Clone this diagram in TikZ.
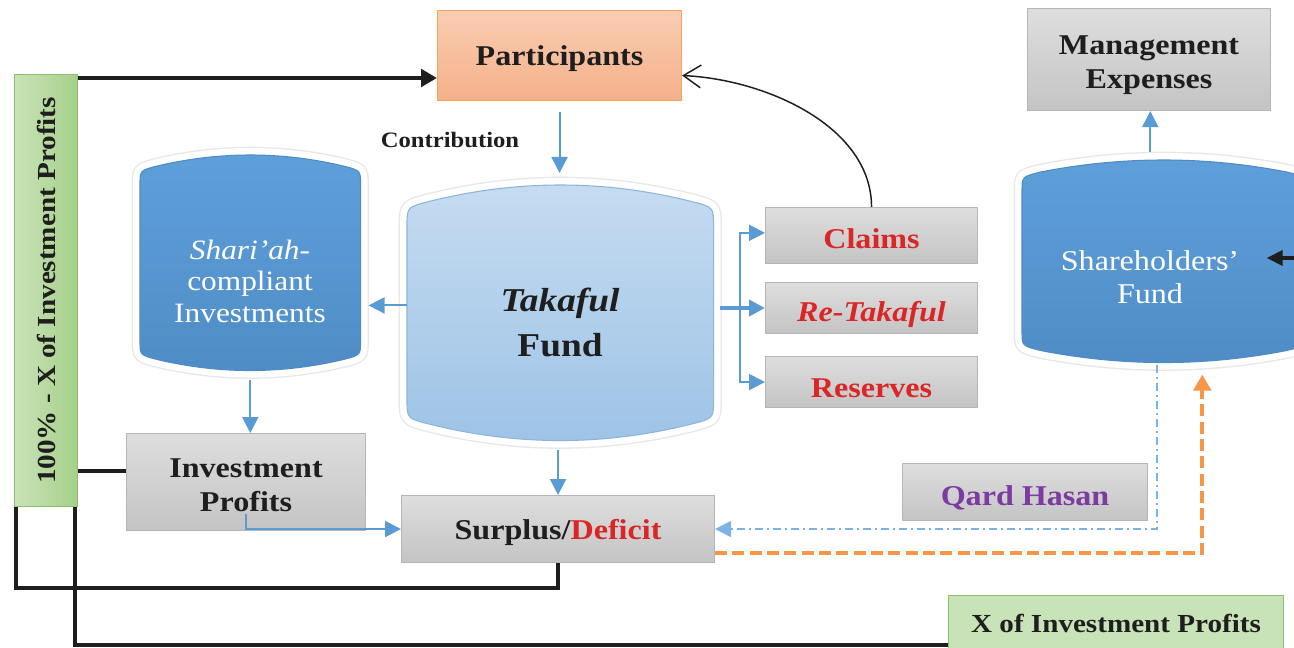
\documentclass[tikz,border=0pt]{standalone}
\usepackage{fontspec}
\setmainfont{Liberation Serif}[FakeStretch=1.12]
\usetikzlibrary{arrows.meta,calc,backgrounds}

\definecolor{lineblue}{HTML}{5B9BD5}
\definecolor{dotblue}{HTML}{7DB3E3}
\definecolor{drumblue}{HTML}{5FA0DA}
\definecolor{drumbluedark}{HTML}{4F8CC6}
\definecolor{tktop}{HTML}{C6DCF1}
\definecolor{tkbot}{HTML}{9DC3E6}
\definecolor{tkedge}{HTML}{8DB5DC}
\definecolor{gboxtop}{HTML}{DEDEDE}
\definecolor{gboxbot}{HTML}{C4C4C4}
\definecolor{gboxedge}{HTML}{B5B5B5}
\definecolor{greenL}{HTML}{C9E3B8}
\definecolor{greenR}{HTML}{A6D08A}
\definecolor{greenedge}{HTML}{8CC070}
\definecolor{salmontop}{HTML}{FACDB3}
\definecolor{salmonbot}{HTML}{F5B089}
\definecolor{salmonedge}{HTML}{F4A460}
\definecolor{txtred}{HTML}{DA2626}
\definecolor{txtpurple}{HTML}{7B3BA0}
\definecolor{flow}{HTML}{F79646}
\definecolor{ink}{HTML}{1E1E1E}

% barrel outline of a fund: #1 node, #2 extra width on the right,
% #3 depth of the arched top and bottom, #4 corner size, #5 path options
\newcommand\drumbody[5]{%
  \path[#5] let \p1=(#1.north west), \p2=(#1.south east),
      \n1={(\x2+#2-\x1-2*#4)/3} in
    (\x1,\y1-#3-#4)
      .. controls (\x1,\y1-#3-0.25*#4) .. (\x1+#4,\y1-#3)
      .. controls (\x1+#4+\n1,\y1+#3/3) and (\x2+#2-#4-\n1,\y1+#3/3) .. (\x2+#2-#4,\y1-#3)
      .. controls (\x2+#2,\y1-#3-0.25*#4) .. (\x2+#2,\y1-#3-#4)
    -- (\x2+#2,\y2+#3+#4)
      .. controls (\x2+#2,\y2+#3+0.25*#4) .. (\x2+#2-#4,\y2+#3)
      .. controls (\x2+#2-#4-\n1,\y2-#3/3) and (\x1+#4+\n1,\y2-#3/3) .. (\x1+#4,\y2+#3)
      .. controls (\x1,\y2+#3+0.25*#4) .. (\x1,\y2+#3+#4)
    -- cycle;}
\newcommand\fund[5]{%
  \drumbody{#1}{#2}{#3}{#4}{draw=black!9, line width=12.5pt}
  \drumbody{#1}{#2}{#3}{#4}{draw=white, line width=10.5pt}
  \drumbody{#1}{#2}{#3}{#4}{#5}}

\begin{document}
\begin{tikzpicture}[x=0.75pt,y=-0.75pt,
  wh/.style 2 args={minimum width=#1*0.75pt, minimum height=#2*0.75pt},
  lbl/.style={font=\bfseries\fontsize{21.5}{25.5}\selectfont, text=ink, text depth=0pt},
  basebox/.style={anchor=north west, inner sep=0pt, align=center, line width=0.8pt},
  graybox/.style={basebox, lbl, draw=gboxedge, top color=gboxtop, bottom color=gboxbot},
  greenbox/.style={basebox, draw=greenedge, left color=greenL, right color=greenR},
  drumnode/.style={anchor=north west, inner sep=0pt},
  drumtext/.style={align=center, inner sep=0pt, text depth=0pt},
  blueline/.style={draw=lineblue, line width=1.5pt},
  bluearrow/.style={blueline, -{Triangle[length=12pt,width=12pt]}},
  blackline/.style={draw=ink, line width=3pt},
  blackarrow/.style={blackline, -{Triangle[length=12pt,width=13pt]}},
]
\useasboundingbox (0,0) rectangle (1294,648);
\clip (0,0) rectangle (1294,648);

% ---------- boxes ----------
\node[greenbox, wh={63}{432}, lbl, font=\bfseries\fontsize{19.5}{22}\selectfont, text depth=]
  (keep) at (14,74) {\rotatebox{90}{100\% - X of Investment Profits}};
\node[basebox, lbl, wh={244}{90}, draw=salmonedge, top color=salmontop, bottom color=salmonbot]
  (part) at (437,10) {Participants};
\node[lbl, font=\bfseries\fontsize{16.5}{20}\selectfont] (contrib) at (450,140) {Contribution};
\node[graybox, wh={212}{56}, text=txtred, text height=19pt] (claims) at (765,207) {Claims};
\node[graybox, wh={212}{51}, text=txtred, text height=20.5pt] (retak) at (765,282) {\textit{Re-Takaful}};
\node[graybox, wh={212}{51}, text=txtred, text height=23pt] (reserves) at (765,356) {Reserves};
\node[graybox, wh={243}{102}, text height=44pt] (mgmt) at (1027,8) {Management\\Expenses};
\node[graybox, wh={239}{97}, text height=43.5pt] (ip) at (126,433) {Investment\\Profits};
\node[graybox, wh={313}{67}] (sd) at (401,495) {Surplus/\textcolor{txtred}{Deficit}};
\node[graybox, wh={245}{57}, text=txtpurple, text height=20.5pt] (qard) at (902,463) {Qard Hasan};
\node[greenbox, wh={335}{62}, lbl, font=\bfseries\fontsize{19.5}{22}\selectfont, left color=greenL, right color=greenL]
  (xinv) at (948,595) {\raisebox{5pt}{X of Investment Profits}};

% ---------- funds ----------
\node[drumnode, wh={306}{255}] (tf) at (407,185) {};
\node[drumnode, wh={220}{215}] (sci) at (140,155) {};
\node[drumnode, wh={256}{202}] (shf) at (1022,160) {};
\node[drumtext, text=ink, font=\bfseries\fontsize{25}{34}\selectfont] (tftext) at (560,322)
  {\textit{Takaful}\\Fund};
\node[drumtext, text=white, font=\fontsize{21}{23.6}\selectfont] (scitext) at (250,281)
  {\textit{Shari’ah-}\\compliant\\Investments};
\node[drumtext, text=white, font=\fontsize{21.5}{25}\selectfont] (shftext) at (1150,277)
  {Shareholders’\\Fund};

\begin{scope}[on background layer]
  \fill[white] (0,0) rectangle (1294,648);
  \fund{tf}{0pt}{12pt}{18pt}{top color=tktop, bottom color=tkbot, draw=tkedge, line width=0.8pt}
  \fund{sci}{0pt}{8pt}{14pt}{top color=drumblue, bottom color=drumbluedark, draw=drumbluedark, line width=0.8pt}
  \fund{shf}{20pt}{9pt}{14pt}{top color=drumblue, bottom color=drumbluedark, draw=drumbluedark, line width=0.8pt}
\end{scope}

% ---------- connectors ----------
\draw[blackarrow] ([yshift=-3pt]keep.north east) -- ([yshift=-3pt]keep.north east -| part.west);
\draw[bluearrow] ([yshift=-8pt]part.south) -- ([yshift=9pt]part.south |- tf.north);
\draw[draw=ink, line width=1.1pt, -{Straight Barb[length=13pt,width=17pt]}]
  (claims.north) .. controls +(0,-80) and +(85,4) .. ([yshift=-15pt]part.east);
\draw[bluearrow, shorten >=6pt] ([yshift=5.5pt]tf.west) -- ([yshift=5.5pt]tf.west -| sci.east);
\draw[bluearrow] ([yshift=-7pt]sci.south) -- (sci.south |- ip.north);
\draw[bluearrow] ([yshift=-7pt]sd.north |- tf.south) -- (sd.north);
\draw[bluearrow] ([yshift=12.5pt]ip.south) |- (sd.west);
\coordinate (fork) at (740,307);
\draw[blueline, line width=3pt, -{Triangle[length=12pt,width=12pt]}]
  ([xshift=5pt]tf.east |- retak.west) -- (retak.west);
\draw[blueline, {Triangle[length=12pt,width=12pt]}-{Triangle[length=12pt,width=12pt]}]
  ([yshift=2pt]claims.west) -| (fork) |- (reserves.west);
\draw[bluearrow] ([yshift=6pt]shf.north) -- (shf.north |- mgmt.south);
\coordinate (rin) at (1300,258);
\draw[blackarrow, -{Triangle[length=12pt,width=11pt]}] (rin) -- ([xshift=-9pt]shf.east |- rin);
\draw[draw=dotblue, line width=1.2pt, dash pattern=on 6pt off 3pt on 1.5pt off 3pt,
      -{Triangle[length=12pt,width=12pt]}]
  ([xshift=5pt,yshift=-2pt]shf.south) |- (sd.east);
\draw[draw=flow, line width=3.2pt, dash pattern=on 9pt off 4pt,
      -{Triangle[length=12pt,width=13pt]}]
  ([yshift=-18pt]sd.east) -| ([xshift=39pt,yshift=-9pt]shf.south);
\draw[blackline] ([yshift=8.6pt]ip.west -| keep.east) -- ([yshift=8.6pt]ip.west);
\draw[blackline] ([xshift=1.5pt]keep.south west) |- ([yshift=-18.75pt]sd.south) -- (sd.south);
\draw[blackline] ([xshift=-2pt]keep.south east) |- ([yshift=-13.5pt]xinv.west);
\end{tikzpicture}
\end{document}
